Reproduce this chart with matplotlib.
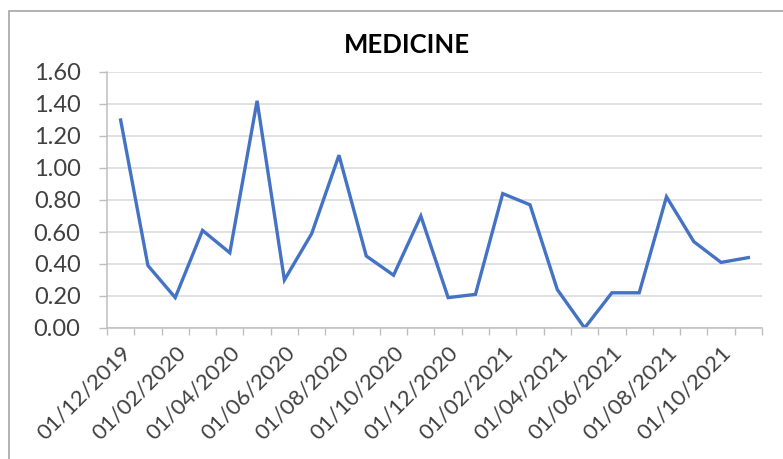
import matplotlib
matplotlib.use("Agg")
import matplotlib.pyplot as plt
from matplotlib.patches import Rectangle

months = [
    "01/12/2019", "01/01/2020", "01/02/2020", "01/03/2020", "01/04/2020", "01/05/2020",
    "01/06/2020", "01/07/2020", "01/08/2020", "01/09/2020", "01/10/2020", "01/11/2020",
    "01/12/2020", "01/01/2021", "01/02/2021", "01/03/2021", "01/04/2021", "01/05/2021",
    "01/06/2021", "01/07/2021", "01/08/2021", "01/09/2021", "01/10/2021", "01/11/2021",
]
values = [
    1.30, 0.39, 0.19, 0.61, 0.47, 1.42,
    0.30, 0.59, 1.08, 0.45, 0.33, 0.70,
    0.19, 0.21, 0.84, 0.77, 0.24, 0.00,
    0.22, 0.22, 0.82, 0.54, 0.41, 0.44,
]
y_ticks = [0.0, 0.2, 0.4, 0.6, 0.8, 1.0, 1.2, 1.4, 1.6]

plt.rcParams["font.family"] = ["Lato", "DejaVu Sans"]

W, H = 783, 459
fig = plt.figure(figsize=(W / 100, H / 100), dpi=100)

# chart frame (only left/top edges fall inside the crop)
fig.patches.append(Rectangle((9 / W, -0.1), 1.2, (H - 11) / H + 0.1, transform=fig.transFigure,
                             fill=False, edgecolor="#a6a6a6", linewidth=1.2))

left, right, top, bottom = 107, 762, 72, 328
ax = fig.add_axes([left / W, 1 - bottom / H, (right - left) / W, (bottom - top) / H])

x = list(range(len(values)))
ax.plot(x, values, color="#4472c4", linewidth=2.4, solid_joinstyle="miter")

ax.set_xlim(-0.5, len(values) - 0.5)
ax.set_ylim(0, 1.6)
ax.set_yticks(y_ticks)
ax.set_yticklabels([f"{v:.2f}" for v in y_ticks])
ax.yaxis.grid(True, color="#d9d9d9", linewidth=1.1)
ax.set_axisbelow(True)

ax.set_xticks([i - 0.5 for i in range(len(values) + 1)])
ax.set_xticklabels([])
ax.set_xticks(x[::2], minor=True)
ax.set_xticklabels(months[::2], minor=True, rotation=45, ha="right",
                   rotation_mode="anchor", fontsize=16, color="#404040")
ax.tick_params(axis="x", which="major", length=5, color="#bfbfbf", width=1)
ax.tick_params(axis="x", which="minor", length=0, pad=10)
ax.tick_params(axis="y", length=6, color="#bfbfbf", width=1, labelsize=17,
               labelcolor="#404040", pad=13)

for s in ("top", "right"):
    ax.spines[s].set_visible(False)
for s in ("left", "bottom"):
    ax.spines[s].set_color("#bfbfbf")
    ax.spines[s].set_linewidth(1.1)

fig.text(407 / W, 1 - 45 / H, "MEDICINE", ha="center", va="center",
         fontsize=18.5, fontweight="bold", color="#000000")

fig.savefig("out.png", dpi=100)
